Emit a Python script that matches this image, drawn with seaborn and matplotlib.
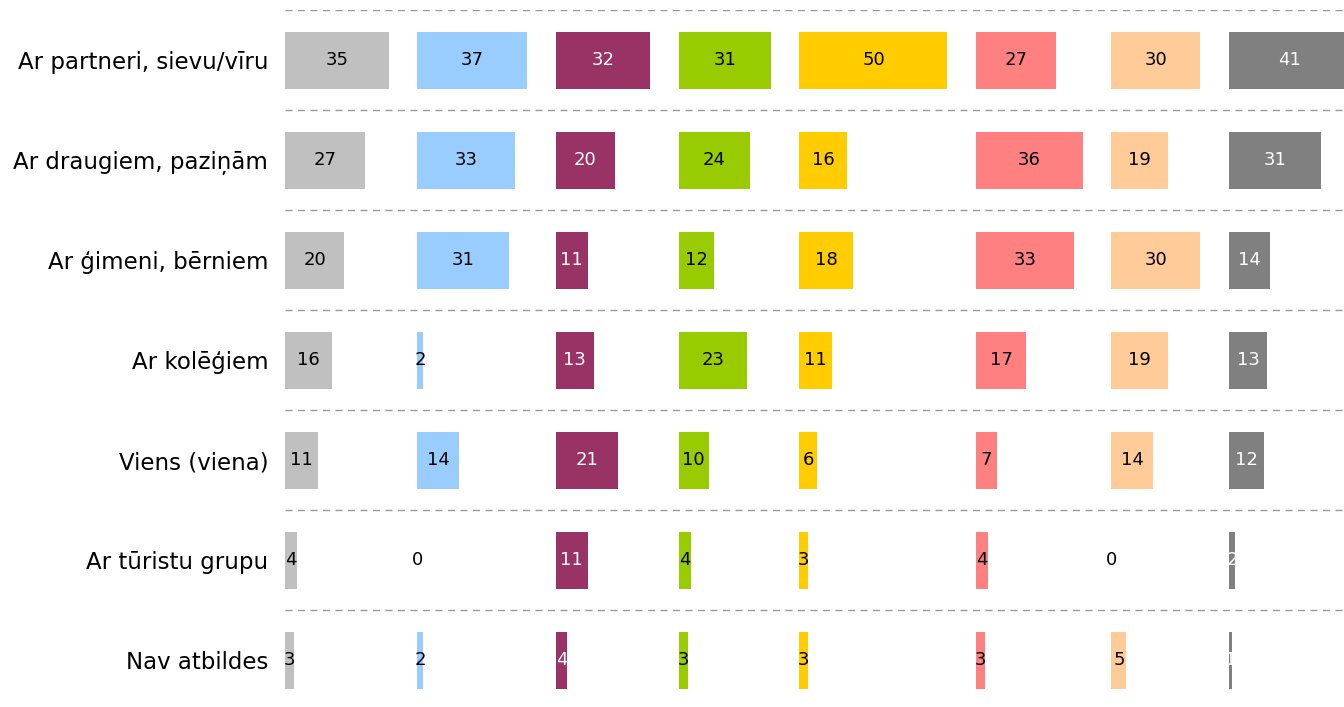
import matplotlib
matplotlib.use("Agg")
import matplotlib.pyplot as plt
import seaborn as sns

# Rindu nosaukumi
rows = ["Ar partneri, sievu/vīru", "Ar draugiem, paziņām", "Ar ģimeni, bērniem",
        "Ar kolēģiem", "Viens (viena)", "Ar tūristu grupu", "Nav atbildes"]

# Katras kolonnas vērtības (%)
col1 = [35, 27, 20, 16, 11, 4, 3]
col2 = [37, 33, 31, 2, 14, 0, 2]
col3 = [32, 20, 11, 13, 21, 11, 4]
col4 = [31, 24, 12, 23, 10, 4, 3]
col5 = [50, 16, 18, 11, 6, 3, 3]
col6 = [27, 36, 33, 17, 7, 4, 3]
col7 = [30, 19, 30, 19, 14, 0, 5]
col8 = [41, 31, 14, 13, 12, 2, 1]

columns = [col1, col2, col3, col4, col5, col6, col7, col8]
colors = ["#C0C0C0", "#99CCFF", "#993366", "#99CC00",
          "#FFCC00", "#FF8080", "#FFCC99", "#808080"]
text_colors = ["black", "black", "white", "black",
               "black", "black", "black", "white"]

W, H = 1344, 707
fig = plt.figure(figsize=(W / 100, H / 100), dpi=100)

# Izkārtojums pikseļos
left0 = 285          # pirmās kolonnas sākums
top = 10             # augšējā pārtrauktā līnija
px_per_unit = 2.96   # pikseļi uz vienu procentpunktu
gap_units = 9.7      # atstarpe pēc kolonnas maksimuma
row_h = 100
ylim = (-0.5 + (H - top) / row_h, -0.5)

# Fona ass ar rindu nosaukumiem un pārtrauktajām līnijām
bg = fig.add_axes([left0 / W, 0, 1 - left0 / W, (H - top) / H])
bg.set_xlim(0, 1)
bg.set_ylim(*ylim)
bg.set_yticks(range(len(rows)))
bg.set_yticklabels(rows, fontsize=16.5)
bg.tick_params(axis="y", length=0, pad=12)
bg.set_xticks([])
for s in bg.spines.values():
    s.set_visible(False)
for i in range(len(rows)):
    bg.axhline(i - 0.5, color="#999999", linestyle=(0, (5, 4)), linewidth=1)

x_px = left0
for vals, c, tc in zip(columns, colors, text_colors):
    span = max(vals) + gap_units
    ax = fig.add_axes([x_px / W, 0, span * px_per_unit / W, (H - top) / H])
    ax.patch.set_alpha(0)
    sns.barplot(x=vals, y=rows, color=c, orient="h", width=0.57,
                saturation=1, ax=ax)
    ax.set_xlim(0, span)
    ax.set_ylim(*ylim)
    ax.bar_label(ax.containers[0], label_type="center", color=tc, fontsize=13)
    ax.set_axis_off()
    x_px += span * px_per_unit

fig.savefig("out.png", dpi=100)
